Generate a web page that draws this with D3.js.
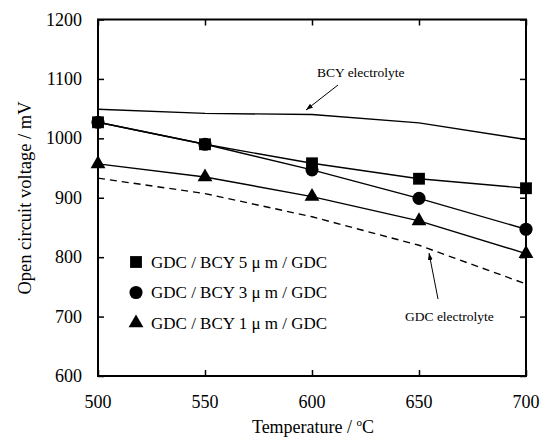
<!DOCTYPE html>
<html>
<head>
    <meta charset="utf-8">
    <title>Open circuit voltage vs temperature</title>
    <script src="https://d3js.org/d3.v7.min.js"></script>
    <style>
        body { margin: 0; background: #fff; }
        svg text { font-family: "Liberation Serif", "Times New Roman", serif; fill: #000; }
    </style>
</head>
<body>
    <div id="chart"></div>

    <script>
        // values
        const temps = [500, 550, 600, 650, 700];
        const bcyElectrolyte = [1049, 1042, 1040, 1026, 998];
        const gdcElectrolyte = [933, 907, 868, 820, 755];
        const bcy5 = [1027, 990, 958, 932, 916];
        const bcy3 = [1027, 990, 947, 899, 847];
        const bcy1 = [957, 935, 902, 861, 806];
        const xTicks = [500, 550, 600, 650, 700];
        const yTicks = [600, 700, 800, 900, 1000, 1100, 1200];

        const width = 543, height = 446;
        const margin = {left: 98, right: 17, top: 19.5, bottom: 70};

        const svg = d3.select("#chart").append("svg")
            .attr("width", width)
            .attr("height", height);

        const x = d3.scaleLinear().domain([500, 700]).range([margin.left, width - margin.right]);
        const y = d3.scaleLinear().domain([600, 1200]).range([height - margin.bottom, margin.top]);

        // frame
        svg.append("rect")
            .attr("x", x(500)).attr("y", y(1200))
            .attr("width", x(700) - x(500)).attr("height", y(600) - y(1200))
            .attr("fill", "none").attr("stroke", "#000").attr("stroke-width", 2);

        // inward ticks on all four sides
        const tick = 6;
        svg.append("g").attr("transform", `translate(0,${y(600)})`)
            .call(d3.axisBottom(x).tickValues(xTicks).tickSize(-tick).tickFormat(""))
            .call(g => g.select(".domain").remove());
        svg.append("g").attr("transform", `translate(0,${y(1200)})`)
            .call(d3.axisTop(x).tickValues(xTicks).tickSize(-tick).tickFormat(""))
            .call(g => g.select(".domain").remove());
        svg.append("g").attr("transform", `translate(${x(500)},0)`)
            .call(d3.axisLeft(y).tickValues(yTicks).tickSize(-tick).tickFormat(""))
            .call(g => g.select(".domain").remove());
        svg.append("g").attr("transform", `translate(${x(700)},0)`)
            .call(d3.axisRight(y).tickValues(yTicks).tickSize(-tick).tickFormat(""))
            .call(g => g.select(".domain").remove());
        svg.selectAll(".tick line").attr("stroke", "#000").attr("stroke-width", 1.5);

        // tick labels
        svg.selectAll(".xlab").data(xTicks).enter().append("text")
            .attr("x", d => x(d)).attr("y", 408)
            .attr("text-anchor", "middle").attr("font-size", 18)
            .text(d => d);
        svg.selectAll(".ylab").data(yTicks).enter().append("text")
            .attr("x", 82).attr("y", d => y(d) + 6)
            .attr("text-anchor", "end").attr("font-size", 18)
            .text(d => d);

        // axis titles
        const xt = svg.append("text")
            .attr("x", 313).attr("y", 433)
            .attr("text-anchor", "middle").attr("font-size", 18);
        xt.append("tspan").text("Temperature / ");
        xt.append("tspan").attr("font-size", 11).attr("dy", -7).text("o");
        xt.append("tspan").attr("dy", 7).text("C");

        svg.append("text")
            .attr("transform", `translate(31,198) rotate(-90)`)
            .attr("text-anchor", "middle").attr("font-size", 18.5)
            .text("Open circuit voltage / mV");

        const line = d3.line().x((d, i) => x(temps[i])).y(d => y(d));

        // lines
        const series = [
            {vals: bcyElectrolyte, dash: null, marker: null},
            {vals: gdcElectrolyte, dash: "7,5", marker: null},
            {vals: bcy5, dash: null, marker: "square"},
            {vals: bcy3, dash: null, marker: "circle"},
            {vals: bcy1, dash: null, marker: "triangle"}
        ];
        series.forEach(s => {
            svg.append("path")
                .attr("d", line(s.vals))
                .attr("fill", "none").attr("stroke", "#000")
                .attr("stroke-width", 1.4)
                .attr("stroke-dasharray", s.dash);
        });

        const symbolOf = {
            square: d3.symbol().type(d3.symbolSquare).size(140),
            circle: d3.symbol().type(d3.symbolCircle).size(135),
            triangle: d3.symbol().type(d3.symbolTriangle).size(95)
        };

        series.filter(s => s.marker).forEach(s => {
            svg.selectAll(null).data(s.vals).enter().append("path")
                .attr("d", symbolOf[s.marker]())
                .attr("transform", (d, i) => `translate(${x(temps[i])},${y(d)})`)
                .attr("fill", "#000");
        });

        // legend
        const legend = [
            {marker: "square", label: "GDC / BCY 5 \u03bc m / GDC"},
            {marker: "circle", label: "GDC / BCY 3 \u03bc m / GDC"},
            {marker: "triangle", label: "GDC / BCY 1 \u03bc m / GDC"}
        ];
        legend.forEach((l, i) => {
            const ly = 262 + i * 30.5;
            svg.append("path").attr("d", symbolOf[l.marker]())
                .attr("transform", `translate(136,${ly})`).attr("fill", "#000");
            svg.append("text").attr("x", 151).attr("y", ly + 5.5)
                .attr("font-size", 17).text(l.label);
        });

        // annotations with arrows
        svg.append("defs").append("marker")
            .attr("id", "arrow").attr("viewBox", "0 0 10 10")
            .attr("refX", 10).attr("refY", 5)
            .attr("markerWidth", 7).attr("markerHeight", 7)
            .attr("orient", "auto")
            .append("path").attr("d", "M0,1.5 L10,5 L0,8.5 Z").attr("fill", "#000");

        svg.append("text").attr("x", 317).attr("y", 77).attr("font-size", 13.5)
            .text("BCY electrolyte");
        svg.append("line")
            .attr("x1", 338).attr("y1", 85).attr("x2", 306).attr("y2", 110)
            .attr("stroke", "#000").attr("stroke-width", 1)
            .attr("marker-end", "url(#arrow)");

        svg.append("text").attr("x", 405).attr("y", 321).attr("font-size", 13.5)
            .text("GDC electrolyte");
        svg.append("line")
            .attr("x1", 438).attr("y1", 299).attr("x2", 429).attr("y2", 253)
            .attr("stroke", "#000").attr("stroke-width", 1)
            .attr("marker-end", "url(#arrow)");
    </script>
</body>
</html>
